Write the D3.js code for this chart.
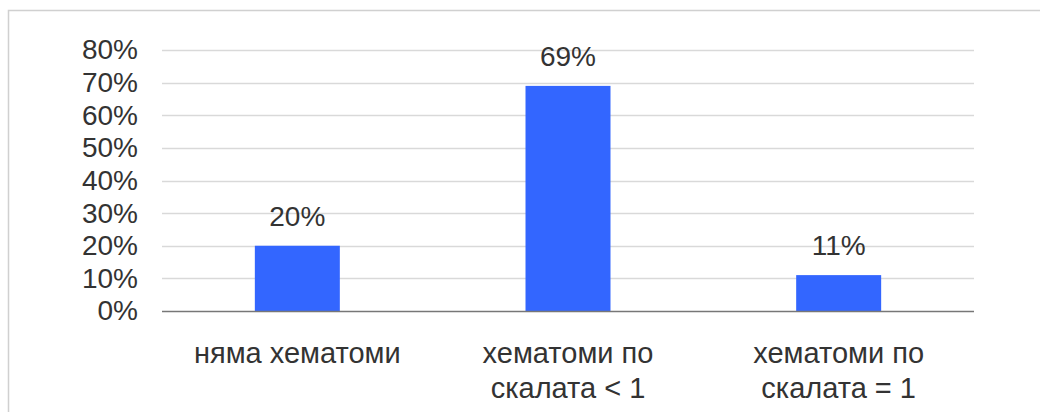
<!DOCTYPE html>
<html>
<head>
<meta charset="utf-8">
<script src="https://cdn.jsdelivr.net/npm/d3@7"></script>
<style>
  html, body { margin: 0; padding: 0; background: #fff; }
  svg { display: block; }
  text { font-family: "Liberation Sans", Arial, sans-serif; fill: #333; }
</style>
</head>
<body>
<svg id="chart" width="1040" height="412"></svg>
<script>
// Share of patients by haematoma category
const categories = [["няма хематоми"], ["хематоми по", "скалата < 1"], ["хематоми по", "скалата = 1"]];
const values = [20, 69, 11];
const tickValues = [0, 10, 20, 30, 40, 50, 60, 70, 80];

const svg = d3.select("#chart");
const width = 1040, height = 412;
const margin = { left: 162, right: 66, top: 50, bottom: 101 };
const plotW = width - margin.left - margin.right;
const plotH = height - margin.top - margin.bottom;

// outer frame
svg.append("rect")
  .attr("x", 8.5).attr("y", 10.5)
  .attr("width", 1100).attr("height", 500)
  .attr("fill", "none").attr("stroke", "#d0d0d0").attr("stroke-width", 1.5);

const g = svg.append("g").attr("transform", `translate(${margin.left},${margin.top})`);

const x = d3.scaleBand()
  .domain(d3.range(categories.length))
  .range([0, plotW])
  .paddingInner(0.686).paddingOuter(0.343);

const y = d3.scaleLinear().domain([0, 80]).range([plotH, 0]);

// gridlines
g.append("g").selectAll("line")
  .data(tickValues.filter(d => d > 0))
  .join("line")
  .attr("x1", 0).attr("x2", plotW)
  .attr("y1", d => Math.round(y(d)) + 0.5).attr("y2", d => Math.round(y(d)) + 0.5)
  .attr("stroke", "#d9d9d9").attr("stroke-width", 1.3);

// y axis labels
const yAxis = d3.axisLeft(y).tickValues(tickValues).tickSize(0).tickPadding(24)
  .tickFormat(d => d + "%");
const ya = g.append("g").call(yAxis);
ya.select(".domain").remove();
ya.selectAll("text").attr("font-size", 28).style("font-family", null).attr("fill", "#333");

// bars
g.append("g").selectAll("rect")
  .data(values)
  .join("rect")
  .attr("x", (d, i) => x(i))
  .attr("width", x.bandwidth())
  .attr("y", d => y(d))
  .attr("height", d => y(0) - y(d))
  .attr("fill", "#3366ff");

// baseline
g.append("line")
  .attr("x1", 0).attr("x2", plotW)
  .attr("y1", y(0) + 0.5).attr("y2", y(0) + 0.5)
  .attr("stroke", "#777").attr("stroke-width", 1.5);

// value labels
g.append("g").selectAll("text")
  .data(values)
  .join("text")
  .attr("x", (d, i) => x(i) + x.bandwidth() / 2)
  .attr("y", d => y(d) - 20)
  .attr("text-anchor", "middle")
  .attr("font-size", 28)
  .text(d => d + "%");

// category labels
const cat = g.append("g").selectAll("text")
  .data(categories)
  .join("text")
  .attr("x", (d, i) => x(i) + x.bandwidth() / 2)
  .attr("y", plotH + 52)
  .attr("text-anchor", "middle")
  .attr("font-size", 29);
cat.selectAll("tspan")
  .data(d => d)
  .join("tspan")
  .attr("x", function() { return this.parentNode.getAttribute("x"); })
  .attr("dy", (d, i) => i === 0 ? 0 : 35)
  .text(d => d);
</script>
</body>
</html>
